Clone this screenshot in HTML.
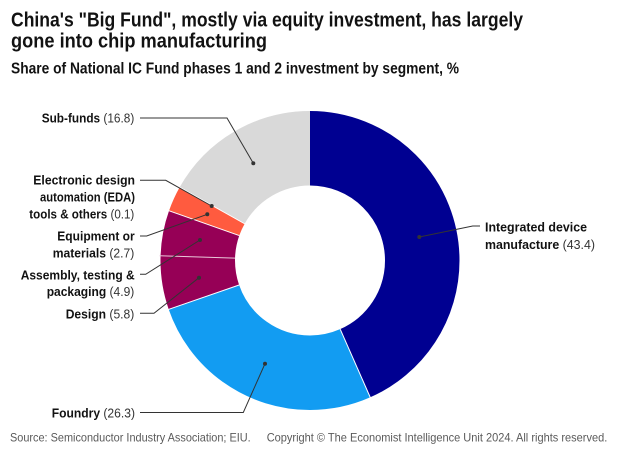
<!DOCTYPE html>
<html>
<head>
<meta charset="utf-8">
<style>
html,body{margin:0;padding:0;background:#fff;}
body{width:620px;height:454px;overflow:hidden;}
svg{display:block;}
text{font-family:"Liberation Sans",Arial,sans-serif;}
.t{font-size:20px;font-weight:bold;fill:#121212;}
.s{font-size:15.5px;font-weight:bold;fill:#121212;}
.l{font-size:13px;fill:#121212;}
.b{font-weight:bold;}
.n{font-weight:normal;fill:#333;}
.f{font-size:12px;fill:#5a5a5a;}
</style>
</head>
<body>
<svg width="620" height="454" viewBox="0 0 620 454" xmlns="http://www.w3.org/2000/svg">
  <!-- Titles -->
  <text class="t" x="11" y="26.7" textLength="512" lengthAdjust="spacingAndGlyphs">China's "Big Fund", mostly via equity investment, has largely</text>
  <text class="t" x="11" y="47.7" textLength="256" lengthAdjust="spacingAndGlyphs">gone into chip manufacturing</text>
  <text class="s" x="11" y="73.3" textLength="448" lengthAdjust="spacingAndGlyphs">Share of National IC Fund phases 1 and 2 investment by segment, %</text>

  <!-- Donut via dasharray; r=112.25, circumference 705.29 -->
  <g transform="rotate(-90 310 260.5)" fill="none" stroke-width="74.5">
    <circle cx="310" cy="260.5" r="112.25" stroke="#000091" stroke-dasharray="306.10 705.29" stroke-dashoffset="0"/>
    <circle cx="310" cy="260.5" r="112.25" stroke="#129cf2" stroke-dasharray="185.49 705.29" stroke-dashoffset="-306.10"/>
    <circle cx="310" cy="260.5" r="112.25" stroke="#960056" stroke-dasharray="40.91 705.29" stroke-dashoffset="-491.59"/>
    <circle cx="310" cy="260.5" r="112.25" stroke="#960056" stroke-dasharray="34.56 705.29" stroke-dashoffset="-532.50"/>
    <circle cx="310" cy="260.5" r="112.25" stroke="#ff5b3f" stroke-dasharray="19.04 705.29" stroke-dashoffset="-567.06"/>
    <circle cx="310" cy="260.5" r="112.25" stroke="#d9d9d9" stroke-dasharray="119.2 705.29" stroke-dashoffset="-586.10"/>
  </g>
  <!-- separators -->
  <g stroke="#ffffff" stroke-width="1">
    <line x1="310" y1="185.5" x2="310" y2="110" transform="rotate(156.24 310 260.5)"/>
    <line x1="310" y1="185.5" x2="310" y2="110" transform="rotate(250.92 310 260.5)"/>
    <line x1="310" y1="185.5" x2="310" y2="110" transform="rotate(289.44 310 260.5)"/>
    <line x1="310" y1="185.5" x2="310" y2="110" transform="rotate(299.34 310 260.5)"/>
  </g>
  <line x1="310" y1="185.5" x2="310" y2="110" transform="rotate(271.8 310 260.5)" stroke="#e9c6d8" stroke-width="1"/>

  <!-- Leader lines -->
  <g stroke="#333" stroke-width="1" fill="none">
    <polyline points="140,118 227,118 253.3,163.3"/>
    <polyline points="140,180.3 165.7,180.3 211.7,206"/>
    <polyline points="140,236 146.7,236 207.3,214.3"/>
    <polyline points="140,274.3 145.7,274.3 200,240"/>
    <polyline points="140,313.3 154,313.3 199,277.7"/>
    <polyline points="140,412.5 243.3,412.5 265,363.7"/>
    <polyline points="419.3,237 472.7,226 480,226"/>
  </g>
  <g fill="#333">
    <circle cx="253.3" cy="163.3" r="2"/>
    <circle cx="211.7" cy="206" r="2"/>
    <circle cx="207.3" cy="214.3" r="2"/>
    <circle cx="200" cy="240" r="2"/>
    <circle cx="199" cy="277.7" r="2"/>
    <circle cx="265" cy="363.7" r="2"/>
    <circle cx="419.3" cy="237" r="2"/>
  </g>

  <!-- Labels -->
  <text class="l" x="41.7" y="122.7" textLength="92.6" lengthAdjust="spacingAndGlyphs"><tspan class="b">Sub-funds</tspan><tspan class="n"> (16.8)</tspan></text>
  <text class="l b" x="33.3" y="184.3" textLength="101.7" lengthAdjust="spacingAndGlyphs">Electronic design</text>
  <text class="l b" x="40" y="201.7" textLength="95" lengthAdjust="spacingAndGlyphs">automation (EDA)</text>
  <text class="l" x="29.3" y="218.3" textLength="105" lengthAdjust="spacingAndGlyphs"><tspan class="b">tools &amp; others</tspan><tspan class="n"> (0.1)</tspan></text>
  <text class="l b" x="57.3" y="240.7" textLength="77.4" lengthAdjust="spacingAndGlyphs">Equipment or</text>
  <text class="l" x="52.7" y="257.3" textLength="81.6" lengthAdjust="spacingAndGlyphs"><tspan class="b">materials</tspan><tspan class="n"> (2.7)</tspan></text>
  <text class="l b" x="20.7" y="279.3" textLength="114" lengthAdjust="spacingAndGlyphs">Assembly, testing &amp;</text>
  <text class="l" x="46.7" y="296" textLength="87.6" lengthAdjust="spacingAndGlyphs"><tspan class="b">packaging</tspan><tspan class="n"> (4.9)</tspan></text>
  <text class="l" x="65.7" y="318.3" textLength="68.6" lengthAdjust="spacingAndGlyphs"><tspan class="b">Design</tspan><tspan class="n"> (5.8)</tspan></text>
  <text class="l" x="51.7" y="417.3" textLength="83.3" lengthAdjust="spacingAndGlyphs"><tspan class="b">Foundry</tspan><tspan class="n"> (26.3)</tspan></text>
  <text class="l b" x="485" y="231.7" textLength="102" lengthAdjust="spacingAndGlyphs">Integrated device</text>
  <text class="l" x="485" y="249" textLength="110" lengthAdjust="spacingAndGlyphs"><tspan class="b">manufacture</tspan><tspan class="n"> (43.4)</tspan></text>

  <!-- Footer -->
  <text class="f" x="10" y="441.3" textLength="240.7" lengthAdjust="spacingAndGlyphs">Source: Semiconductor Industry Association; EIU.</text>
  <text class="f" x="266.7" y="441.3" textLength="340.6" lengthAdjust="spacingAndGlyphs">Copyright © The Economist Intelligence Unit 2024. All rights reserved.</text>
</svg>
</body>
</html>
